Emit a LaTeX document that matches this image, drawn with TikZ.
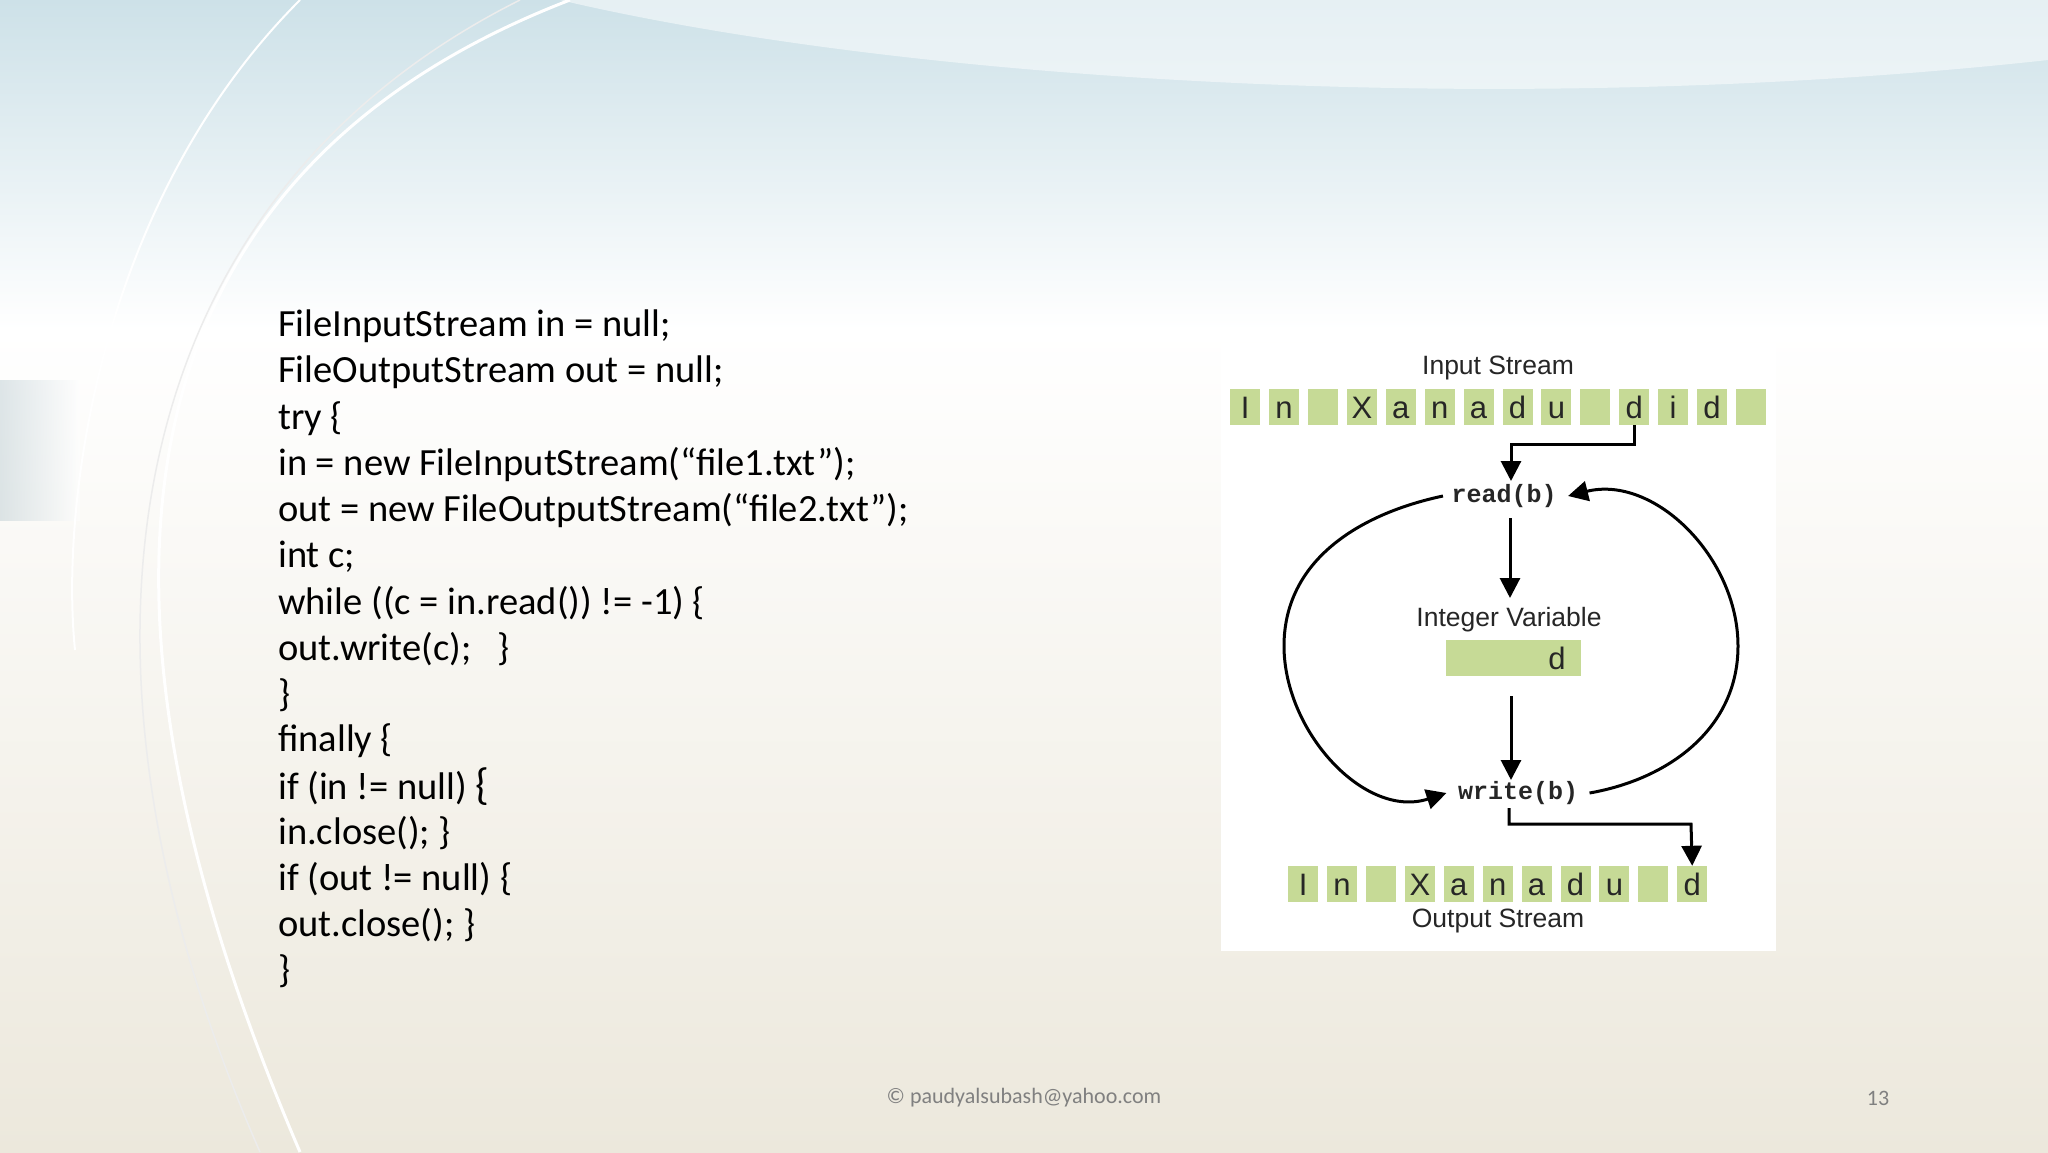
\documentclass[tikz,border=0pt]{standalone}
\usepackage{fontspec}
\setmainfont{Carlito}
\newfontfamily\arialf{Liberation Sans}
\newfontfamily\monof{Liberation Mono}
\usetikzlibrary{arrows.meta}
\definecolor{cellg}{RGB}{198,218,150}
\definecolor{bgtop}{RGB}{205,225,232}
\definecolor{bgbot}{RGB}{236,232,220}
\tikzset{
 cell/.style={fill=cellg,minimum width=30pt,minimum height=36pt,inner sep=0pt,text height=22pt,text depth=0pt,font=\arialf\fontsize{31}{31}\selectfont,text=black!85},
 flow/.style={line width=3pt,-{Triangle[length=20pt,width=20pt]}},
 codeline/.style={anchor=west,inner sep=0pt,font=\fontsize{38.5}{38.5}\selectfont},
 lbl/.style={font=\arialf\fontsize{26.5}{26.5}\selectfont,text=black!85},
 fn/.style={font=\monof\bfseries\fontsize{25}{25}\selectfont,text=black!85}
}
\begin{document}
\begin{tikzpicture}[x=1pt,y=-1pt]
\useasboundingbox (0,0) rectangle (2048,1152);
% background
\shade[top color=bgtop,bottom color=white] (0,0) rectangle (2048,330);
\shade[top color=white,bottom color=bgbot] (0,330) rectangle (2048,1152);
\fill[white,opacity=0.5] (560,0) .. controls (900,80) and (1500,120) .. (2048,60) -- (2048,0) -- cycle;
\shade[left color=bgtop!80!gray,right color=white,opacity=0.5] (0,380) rectangle (80,520);
\draw[white,line width=3pt] (570,0) .. controls (180,150) and (20,500) .. (300,1152);
\draw[white!85!gray,line width=1.5pt] (520,0) .. controls (120,200) and (40,650) .. (260,1152);
\draw[white,line width=2pt] (300,0) .. controls (100,200) and (60,500) .. (75,650);
% code
\foreach \t [count=\i from 0] in {
 {FileInputStream in = null;},
 {FileOutputStream out = null;},
 {try \{},
 {in = new FileInputStream(“file1.txt");},
 {out = new FileOutputStream(“file2.txt");},
 {int c;},
 {while ((c = in.read()) != -1) \{},
 {out.write(c);\ \ \ \}},
 {\}},
 {finally \{},
 {if (in != null) {\fontsize{44}{44}\selectfont\{}},
 {in.close(); \}},
 {if (out != null) \{},
 {out.close(); \}},
 {\}}}
 \node[codeline] (code\i) at (278,326+46.1*\i) {\t};
% panel
\fill[white] (1221,343) rectangle (1776,951);
\node[lbl] (instr) at (1498,368) {Input Stream};
\foreach \c [count=\i from 0] in {I,n,{},X,a,n,a,d,u,{},d,i,d,{}}
 \node[cell] (in\i) at (1245.2+38.9*\i,407) {\c};
\foreach \c [count=\i from 0] in {I,n,{},X,a,n,a,d,u,{},d}
 \node[cell] (out\i) at (1303.2+38.9*\i,884) {\c};
\node[lbl] (outstr) at (1498,921) {Output Stream};
\node[fn] (read) at (1504,496) {read(b)};
\node[lbl] (ivl) at (1509,620) {Integer Variable};
\node[cell,minimum width=135pt,minimum height=36pt] (var) at (1513.5,658) {};
\node[cell,fill=none] (vard) at (1557,658) {d};
\node[fn] (write) at (1518,793) {write(b)};
\coordinate (c1) at (1511,444);
\coordinate (c3) at (1691,824);
\draw[flow] (in10.south) |- (c1) -- (1511,481);
\draw[flow] (1510,518) -- (1510,598);
\draw[flow] (1511,696) -- (1511,780);
\draw[flow] (1509,808) |- (c3) -- (out10.north);
\draw[flow] (read.west) ++(-5,0) to[out=192,in=90] (1284,646) to[out=-90,in=198] ([xshift=-8pt]write.west);
\draw[flow] (write.east) ++(8,0) to[out=10,in=-90] (1738,646) to[out=90,in=14] ([xshift=8pt]read.east);
% footer
\node[font=\fontsize{22}{22}\selectfont,text=gray] (foot) at (1024,1098) {© paudyalsubash@yahoo.com};
\node[font=\fontsize{22}{22}\selectfont,text=gray] (pg) at (1878,1098) {13};
\end{tikzpicture}
\end{document}
